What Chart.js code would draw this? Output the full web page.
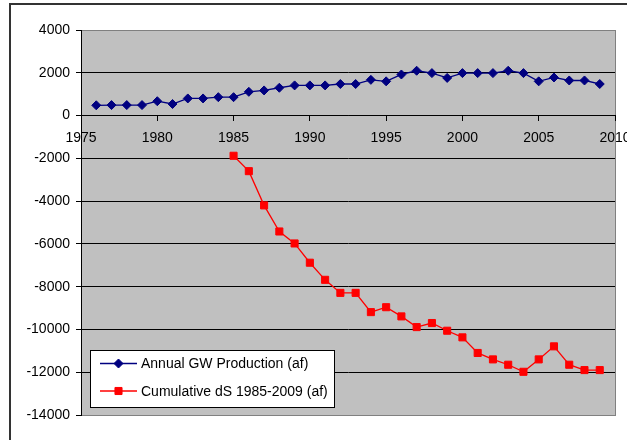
<!DOCTYPE html>
<html>
<head>
<meta charset="utf-8">
<script src="https://cdn.jsdelivr.net/npm/chart.js@4"></script>
<style>
  body { margin: 0; background: #fff; }
  canvas { display: block; }
</style>
</head>
<body>
<canvas id="gwChart" width="627" height="440"></canvas>
<script>
// Annual groundwater production, 1976-2009
const prodYears = [1976, 1977, 1978, 1979, 1980, 1981, 1982, 1983, 1984, 1985,
    1986, 1987, 1988, 1989, 1990, 1991, 1992, 1993, 1994, 1995,
    1996, 1997, 1998, 1999, 2000, 2001, 2002, 2003, 2004, 2005,
    2006, 2007, 2008, 2009];
const prodValues = [480, 490, 490, 490, 670, 540, 800, 800, 860, 860,
    1110, 1175, 1300, 1410, 1410, 1410, 1475, 1475, 1670, 1600,
    1920, 2095, 1985, 1760, 1985, 1985, 1985, 2095, 1985, 1600,
    1780, 1640, 1640, 1475];

// Cumulative change in storage since 1985
const dsYears = [1985, 1986, 1987, 1988, 1989, 1990, 1991, 1992, 1993, 1994,
    1995, 1996, 1997, 1998, 1999, 2000, 2001, 2002, 2003, 2004,
    2005, 2006, 2007, 2008, 2009];
const dsValues = [-1880, -2600, -4200, -5420, -5980, -6880, -7680, -8290, -8290, -9190,
    -8960, -9390, -9890, -9700, -10060, -10370, -11100, -11400, -11650, -11980,
    -11400, -10790, -11650, -11900, -11900];

const yTicks = [-14000, -12000, -10000, -8000, -6000, -4000, -2000, 0, 2000, 4000];
const xTicks = [1975, 1980, 1985, 1990, 1995, 2000, 2005, 2010];

const FONT = 'Arial, "Liberation Sans", sans-serif';

// grey plot area + outer chart frame
const plotArea = {
    id: 'plotArea',
    beforeDraw(chart) {
        const { ctx, chartArea: a } = chart;
        ctx.save();
        ctx.fillStyle = '#c0c0c0';
        ctx.fillRect(a.left, a.top, a.right - a.left, a.bottom - a.top);
        ctx.strokeStyle = '#808080';
        ctx.lineWidth = 1;
        ctx.strokeRect(a.left + 0.5, a.top + 0.5, a.right - a.left, a.bottom - a.top);
        ctx.strokeStyle = '#333';
        ctx.lineWidth = 2;
        ctx.strokeRect(10, 4, 700, 600);
        ctx.restore();
    }
};

// legend box drawn inside the plot like the original
const boxLegend = {
    id: 'boxLegend',
    afterDraw(chart) {
        const ctx = chart.ctx;
        const x = 90, y = 350, w = 244, h = 57;
        ctx.save();
        ctx.fillStyle = '#fff';
        ctx.fillRect(x, y, w, h);
        ctx.strokeStyle = '#000';
        ctx.lineWidth = 1;
        ctx.strokeRect(x + 0.5, y + 0.5, w, h);
        ctx.font = '14px ' + FONT;
        ctx.textBaseline = 'middle';
        chart.data.datasets.forEach((ds, i) => {
            const cy = y + 13.5 + i * 27.5;
            ctx.strokeStyle = ds.borderColor;
            ctx.lineWidth = ds.borderWidth;
            ctx.beginPath();
            ctx.moveTo(100, cy);
            ctx.lineTo(137, cy);
            ctx.stroke();
            ctx.fillStyle = ds.pointBackgroundColor;
            ctx.strokeStyle = ds.pointBorderColor;
            ctx.lineWidth = 1;
            Chart.helpers.drawPoint(ctx, {
                pointStyle: ds.pointStyle, radius: ds.pointRadius, rotation: 0, borderWidth: 1
            }, 118.5, cy);
            ctx.fillStyle = '#000';
            ctx.fillText(ds.label, 141, cy + 1);
        });
        ctx.restore();
    }
};

new Chart(document.getElementById('gwChart'), {
    type: 'line',
    data: {
        datasets: [{
            label: 'Annual GW Production (af)',
            data: prodYears.map((yr, i) => ({ x: yr, y: prodValues[i] })),
            borderColor: '#000080',
            borderWidth: 1.3,
            pointStyle: 'rectRot',
            pointRadius: 4.5,
            pointBackgroundColor: '#000080',
            pointBorderColor: '#000080',
            pointBorderWidth: 1
        }, {
            label: 'Cumulative dS 1985-2009 (af)',
            data: dsYears.map((yr, i) => ({ x: yr, y: dsValues[i] })),
            borderColor: '#ff0000',
            borderWidth: 1.3,
            pointStyle: 'rect',
            pointRadius: 5,
            pointBackgroundColor: '#ff0000',
            pointBorderColor: '#ff0000',
            pointBorderWidth: 1
        }]
    },
    options: {
        responsive: false,
        animation: false,
        layout: { padding: { left: 0, top: 30, right: 12, bottom: 25 } },
        plugins: {
            legend: { display: false },
            tooltip: { enabled: false }
        },
        scales: {
            x: {
                type: 'linear',
                position: { y: 0 },
                min: 1975,
                max: 2010,
                afterBuildTicks(scale) {
                    scale.ticks = xTicks.map(v => ({ value: v }));
                },
                afterFit(scale) {
                    scale.paddingLeft = 0;
                    scale.paddingRight = 0;
                },
                grid: {
                    drawOnChartArea: false,
                    drawTicks: true,
                    tickLength: 5,
                    tickColor: '#000'
                },
                border: { color: '#000', width: 1 },
                ticks: {
                    color: '#000',
                    padding: 9,
                    maxRotation: 0,
                    autoSkip: false,
                    callback: v => String(v),
                    font: { family: FONT, size: 14 }
                }
            },
            y: {
                min: -14000,
                max: 4000,
                afterBuildTicks(scale) {
                    scale.ticks = yTicks.map(v => ({ value: v }));
                },
                afterFit(scale) {
                    scale.width = 81;
                    scale.paddingTop = 0;
                    scale.paddingBottom = 0;
                },
                grid: {
                    color: c => (c.tick && (c.tick.value === 4000 || c.tick.value === -14000)) ? '#808080' : '#000',
                    tickColor: '#000',
                    tickLength: 5
                },
                border: { color: '#000', width: 1 },
                ticks: {
                    color: '#000',
                    padding: 6,
                    callback: v => String(v),
                    font: { family: FONT, size: 14 }
                }
            }
        }
    },
    plugins: [plotArea, boxLegend]
});
</script>
</body>
</html>
